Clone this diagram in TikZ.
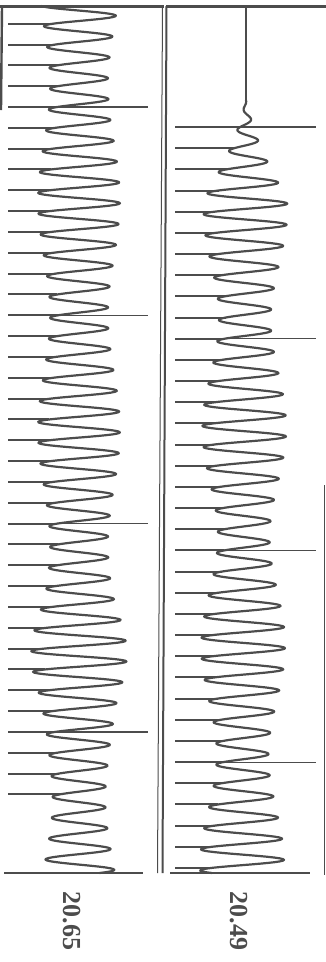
\documentclass[tikz,border=0pt]{standalone}
\usepackage{fontspec}
\setmainfont{Liberation Serif}
\definecolor{ink}{gray}{0.3}
\tikzset{
  wave/.style={ink,line width=2.2pt,line join=round},
  tick/.style={ink,line width=2pt},
  longtick/.style={ink,line width=1.2pt},
  frame/.style={ink,line width=2.4pt},
  freqlabel/.style={ink,rotate=-90,font=\fontsize{26}{26}\selectfont\bfseries}
}

\begin{document}
\begin{tikzpicture}[x=1pt,y=-1pt,
  declare function={
    bp(\u)=max(0,1-\u*\u);
    ampL(\t)=35+6*cos((\t-200)/230*360)+7*bp((\t-650)/60)*bp((\t-650)/60)-6*bp((\t-840)/90)*bp((\t-840)/90);
    waveL(\t)=79-ampL(\t)*cos((\t-109.5)/20.83*360);
    cR(\t)=246-4*(\t-100)/773;
    ampR(\t)=(34+8*cos((\t-210)/218*360))*min(1,(\t-100)/100);
    waveR(\t)=cR(\t)-ampR(\t)*cos((\t-129.5)/21.17*360);
  }]
  \useasboundingbox (0,0) rectangle (326,962);
  % frames
  \draw[frame] (0,6.5) -- (164,6.5);
  \draw[frame] (166,6.5) -- (326,6.5);
  \draw[frame] (2,6) -- (1,110);
  \draw[ink,line width=1pt] (162.5,8) -- (157.5,873);
  \draw[ink,line width=2pt] (166.5,6) -- (162.5,873);
  \draw[ink,line width=1.2pt] (324.5,485) -- (324.5,875);
  \draw[ink,line width=1.8pt] (4,873) -- (143,873);
  \draw[ink,line width=1.8pt] (170,873) -- (310,873);
  % left record
  \foreach \i in {-4,...,33}{
    \pgfmathsetmacro\ty{107+\i*20.83}
    \pgfmathsetmacro\tx{79-0.73*ampL(\ty)}
    \draw[tick] (8,\ty) -- (\tx,\ty);
  }
  \foreach \i in {0,10,20,30}
    \draw[longtick] (8,{107+\i*20.83}) -- (148,{107+\i*20.83});
  \draw[wave] plot[domain=6:873,samples=1100,variable=\t] ({waveL(\t)},{\t});
  % right record
  \foreach \i in {1,...,35}{
    \pgfmathsetmacro\ty{127+\i*21.17}
    \pgfmathsetmacro\tx{cR(\ty)-0.73*ampR(\ty)}
    \draw[tick] (175,\ty) -- (\tx,\ty);
  }
  \foreach \i in {0,10,20,30}
    \draw[longtick] (175,{127+\i*21.17}) -- (316,{127+\i*21.17});
  \draw[ink,line width=1.3pt] (246,6) -- (246,100);
  \draw[wave] plot[domain=100:873,samples=1000,variable=\t] ({waveR(\t)},{\t});
  % frequencies
  \node[freqlabel] (fL) at (72,921) {20.65};
  \node[freqlabel] (fR) at (239,921) {20.49};
\end{tikzpicture}
\end{document}
